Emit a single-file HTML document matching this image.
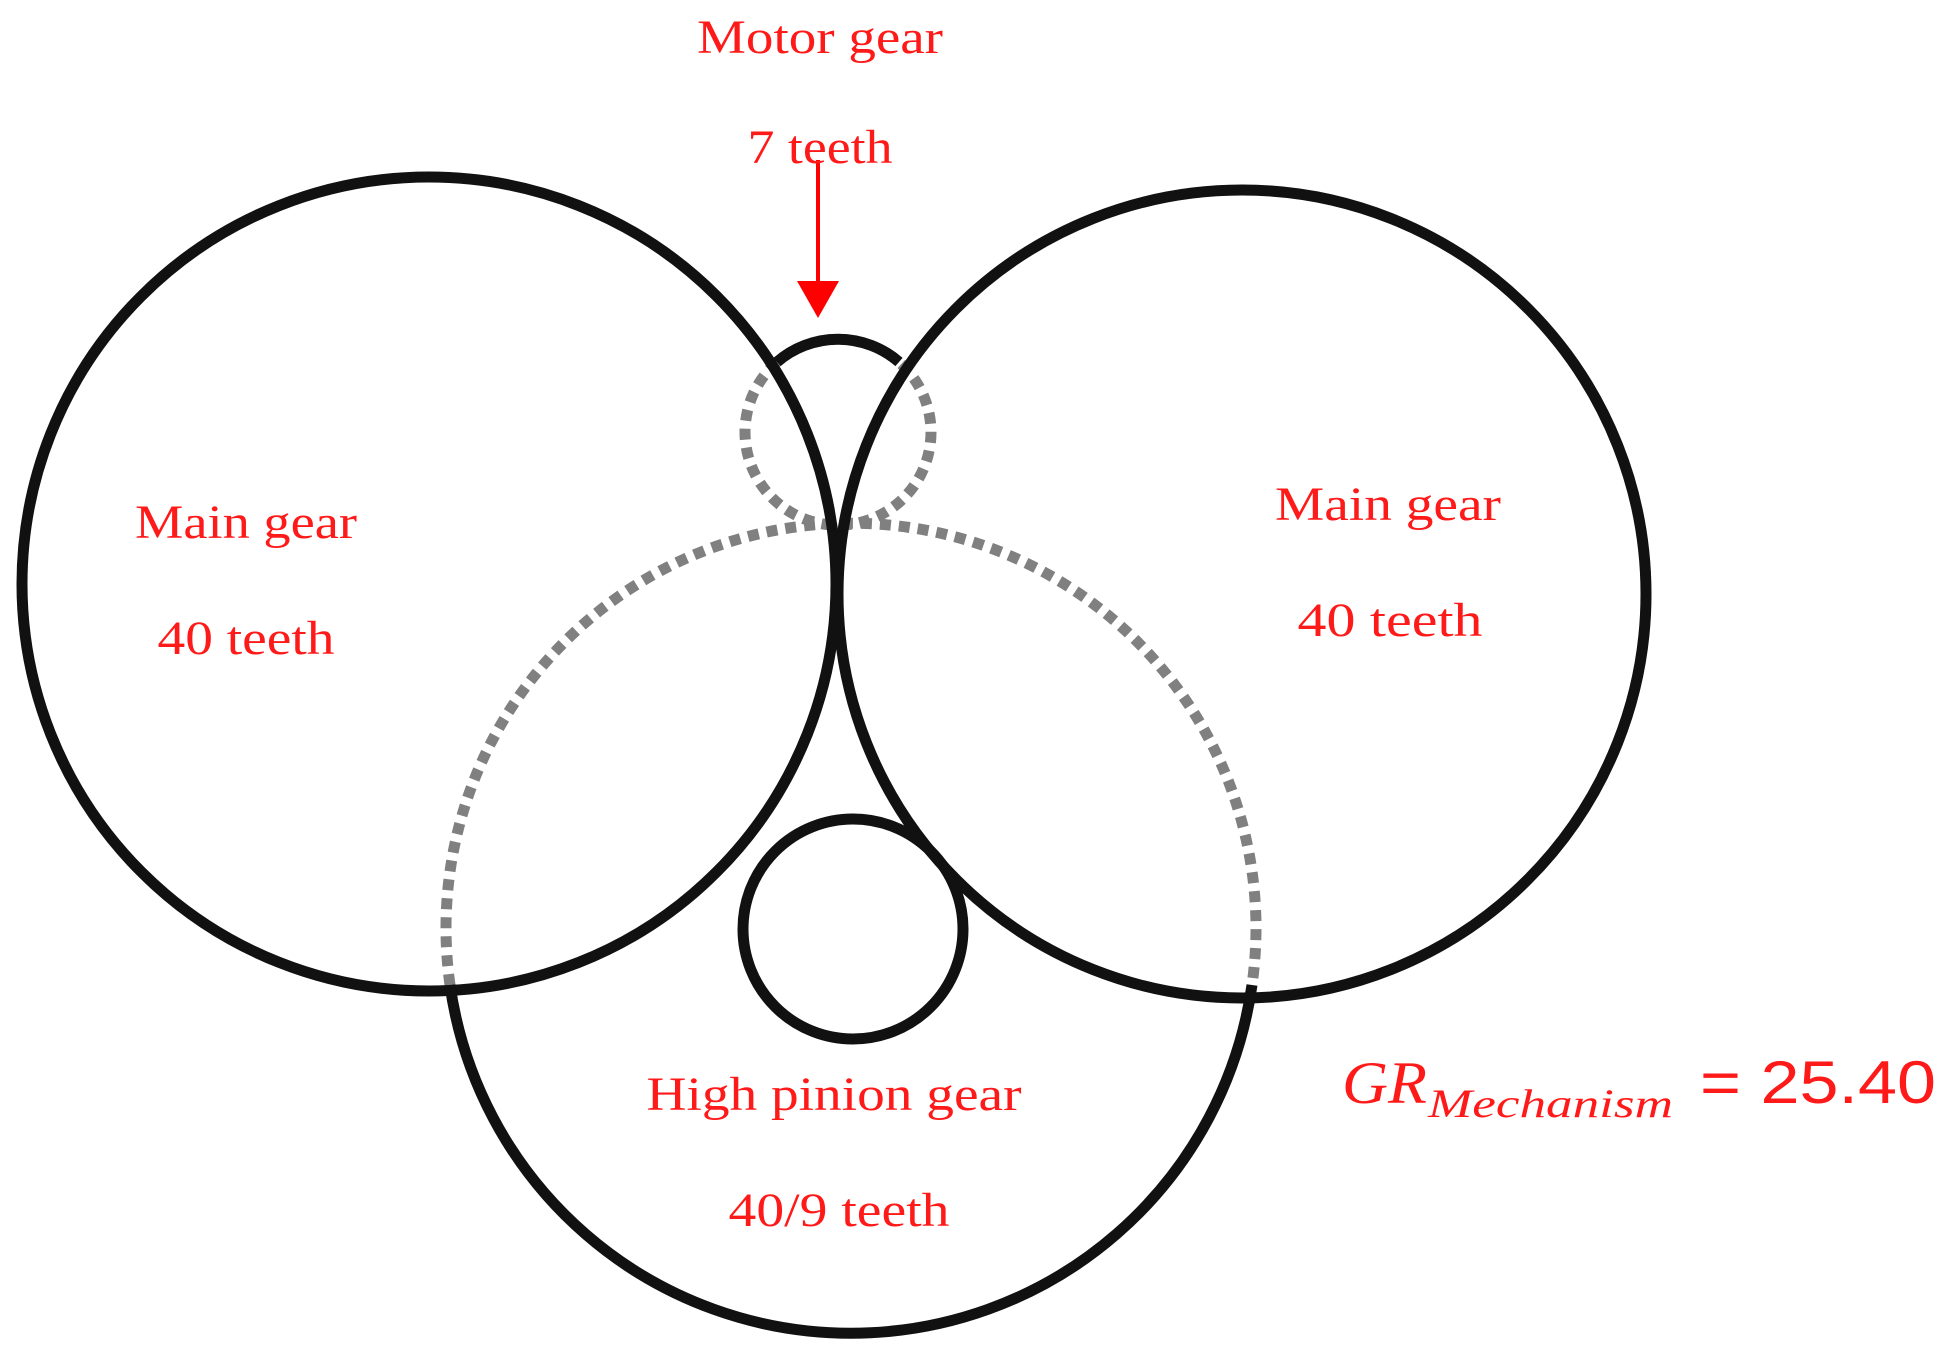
<!DOCTYPE html>
<html><head><meta charset="utf-8"><style>
html,body{margin:0;padding:0;background:#fff;}
svg{display:block;}
.t{font-family:"Liberation Serif",serif;fill:#ff1a1a;font-size:48px;text-anchor:middle;}
</style></head><body>
<svg width="1957" height="1360" viewBox="0 0 1957 1360" xmlns="http://www.w3.org/2000/svg">
<rect width="1957" height="1360" fill="#fff"/>
<g fill="none" stroke="#808080" stroke-width="11" stroke-dasharray="11 8">
<path d="M450 985 A405 405 0 1 1 1252 985"/>
<path d="M777 362 A93 93 0 1 0 899 362"/>
</g>
<g fill="none" stroke="#111" stroke-width="11">
<circle cx="429" cy="584" r="407"/>
<circle cx="1242" cy="594" r="404"/>
<circle cx="853" cy="929" r="110"/>
<path d="M450 985 A405 405 0 0 0 1252 985"/>
<path d="M777 362 A93 93 0 0 1 899 362"/>
</g>
<line x1="818" y1="160" x2="818" y2="290" stroke="#ff0000" stroke-width="4"/>
<polygon points="797,281 839,281 818,318" fill="#ff0000"/>
<text class="t" x="820" y="53" textLength="246" lengthAdjust="spacingAndGlyphs">Motor gear</text>
<text class="t" x="820" y="163" textLength="145" lengthAdjust="spacingAndGlyphs">7 teeth</text>
<text class="t" x="246" y="538" textLength="222" lengthAdjust="spacingAndGlyphs">Main gear</text>
<text class="t" x="246" y="654" textLength="177" lengthAdjust="spacingAndGlyphs">40 teeth</text>
<text class="t" x="1388" y="520" textLength="226" lengthAdjust="spacingAndGlyphs">Main gear</text>
<text class="t" x="1390" y="636" textLength="185" lengthAdjust="spacingAndGlyphs">40 teeth</text>
<text class="t" x="834" y="1110" textLength="375" lengthAdjust="spacingAndGlyphs">High pinion gear</text>
<text class="t" x="839" y="1226" textLength="221" lengthAdjust="spacingAndGlyphs">40/9 teeth</text>
<text x="1342" y="1103" font-family="'Liberation Serif',serif" font-style="italic" font-size="60" fill="#ff1a1a" textLength="85" lengthAdjust="spacingAndGlyphs">GR</text>
<text x="1428" y="1117" font-family="'Liberation Serif',serif" font-style="italic" font-size="40" fill="#ff1a1a" textLength="245" lengthAdjust="spacingAndGlyphs">Mechanism</text>
<text x="1700" y="1103" font-family="'Liberation Sans',sans-serif" font-size="60" fill="#ff1a1a" textLength="236" lengthAdjust="spacingAndGlyphs">= 25.40</text>
</svg>
</body></html>
